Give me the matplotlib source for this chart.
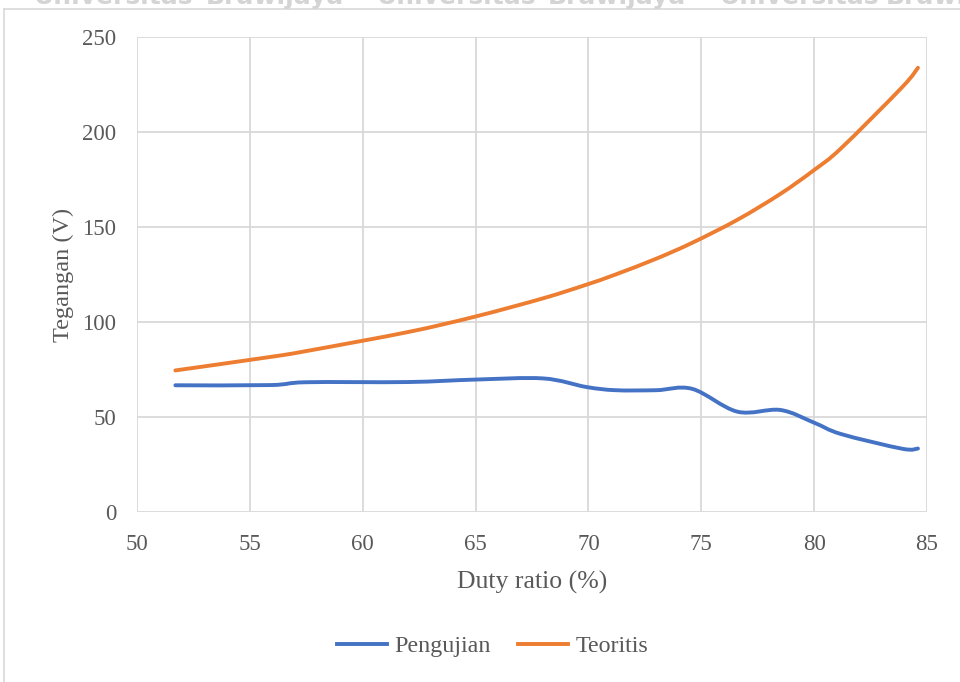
import numpy as np
import matplotlib
matplotlib.use("Agg")
import matplotlib.pyplot as plt
from matplotlib.path import Path
from matplotlib.patches import PathPatch
from matplotlib.lines import Line2D

# Duty ratio (%) and measured / theoretical output voltage (V)
duty = [51.7, 55.9, 57.5, 62.0, 65.0, 68.0, 69.9, 71.2, 73.0, 74.6, 76.6, 78.5, 80.0, 81.2, 83.9, 84.6]
pengujian = [66.7, 66.8, 68.3, 68.4, 69.7, 70.3, 65.8, 64.1, 64.1, 64.8, 52.8, 53.7, 47.0, 41.0, 33.3, 33.4]
teoritis = [74.5, 81.6, 84.7, 94.7, 102.9, 112.5, 119.6, 125.0, 133.3, 141.7, 153.8, 167.4, 180.0, 191.5, 223.6, 233.8]

x_ticks = [50, 55, 60, 65, 70, 75, 80, 85]
y_ticks = [0, 50, 100, 150, 200, 250]

BLUE = "#4472C4"
ORANGE = "#ED7D31"
GRID = "#D9D9D9"
TEXT = "#595959"
FONT = "Liberation Serif"


def smooth_path(xs, ys):
    """Cubic Bezier path through the points (spreadsheet-style smoothed line)."""
    pts = np.column_stack([xs, ys]).astype(float)
    n = len(pts)
    verts = [pts[0]]
    codes = [Path.MOVETO]
    for i in range(n - 1):
        p0 = pts[i - 1] if i > 0 else pts[i]
        p1 = pts[i]
        p2 = pts[i + 1]
        p3 = pts[i + 2] if i + 2 < n else pts[i + 1]
        c1 = p1 + (p2 - p0) / 6.0
        c2 = p2 - (p3 - p1) / 6.0
        verts += [c1, c2, p2]
        codes += [Path.CURVE4] * 3
    return Path(verts, codes)


fig = plt.figure(figsize=(9.6, 6.82), dpi=100)
ax = fig.add_axes([137 / 960, 1 - 512 / 682, 790 / 960, 475 / 682])

for ys, col in ((pengujian, BLUE), (teoritis, ORANGE)):
    ax.add_patch(PathPatch(smooth_path(duty, ys), facecolor="none", edgecolor=col,
                           lw=2.8, capstyle="round", joinstyle="round", zorder=3))

ax.set_xlim(50, 85)
ax.set_ylim(0, 250)
ax.set_xticks(x_ticks)
ax.set_yticks(y_ticks)
ax.grid(True, color=GRID, lw=1.3)
ax.set_axisbelow(True)
for s in ax.spines.values():
    s.set_visible(False)
ax.tick_params(length=0, labelsize=16.5, colors=TEXT)
ax.tick_params(axis="y", pad=15)
ax.tick_params(axis="x", pad=16)
for lab in ax.get_xticklabels() + ax.get_yticklabels():
    lab.set_family(FONT)

ax.set_xlabel("Duty ratio (%)", fontsize=18.5, color=TEXT, family=FONT, labelpad=11)
ax.set_ylabel("Tegangan (V)", fontsize=17.5, color=TEXT, family=FONT, labelpad=6)

handles = [Line2D([], [], color=BLUE, lw=2.8), Line2D([], [], color=ORANGE, lw=2.8)]
fig.legend(handles, ["Pengujian", "Teoritis"], loc="center", bbox_to_anchor=(0.513, 1 - 646 / 682),
           ncol=2, frameon=False, prop={"family": FONT, "size": 17.3}, labelcolor=TEXT,
           handlelength=2.1, handletextpad=0.3, columnspacing=1.1)

# chart area border (left and top edges)
fig.add_artist(Line2D([4 / 960, 4 / 960], [0, 1 - 9 / 682], transform=fig.transFigure, color=GRID, lw=1.2))
fig.add_artist(Line2D([4 / 960, 1], [1 - 9 / 682, 1 - 9 / 682], transform=fig.transFigure, color=GRID, lw=1.2))

# page watermark along the top edge
for word, xpix in (("Universitas", 34), ("Brawijaya", 206), ("Universitas", 377),
                   ("Brawijaya", 548), ("Universitas", 720), ("Brawijaya", 886)):
    fig.text(xpix / 960, 1 - 4 / 682, word, fontsize=18, fontweight="bold", color="#D4D4D4",
             family="DejaVu Sans", va="baseline", ha="left")

fig.savefig("out.png", dpi=100)
